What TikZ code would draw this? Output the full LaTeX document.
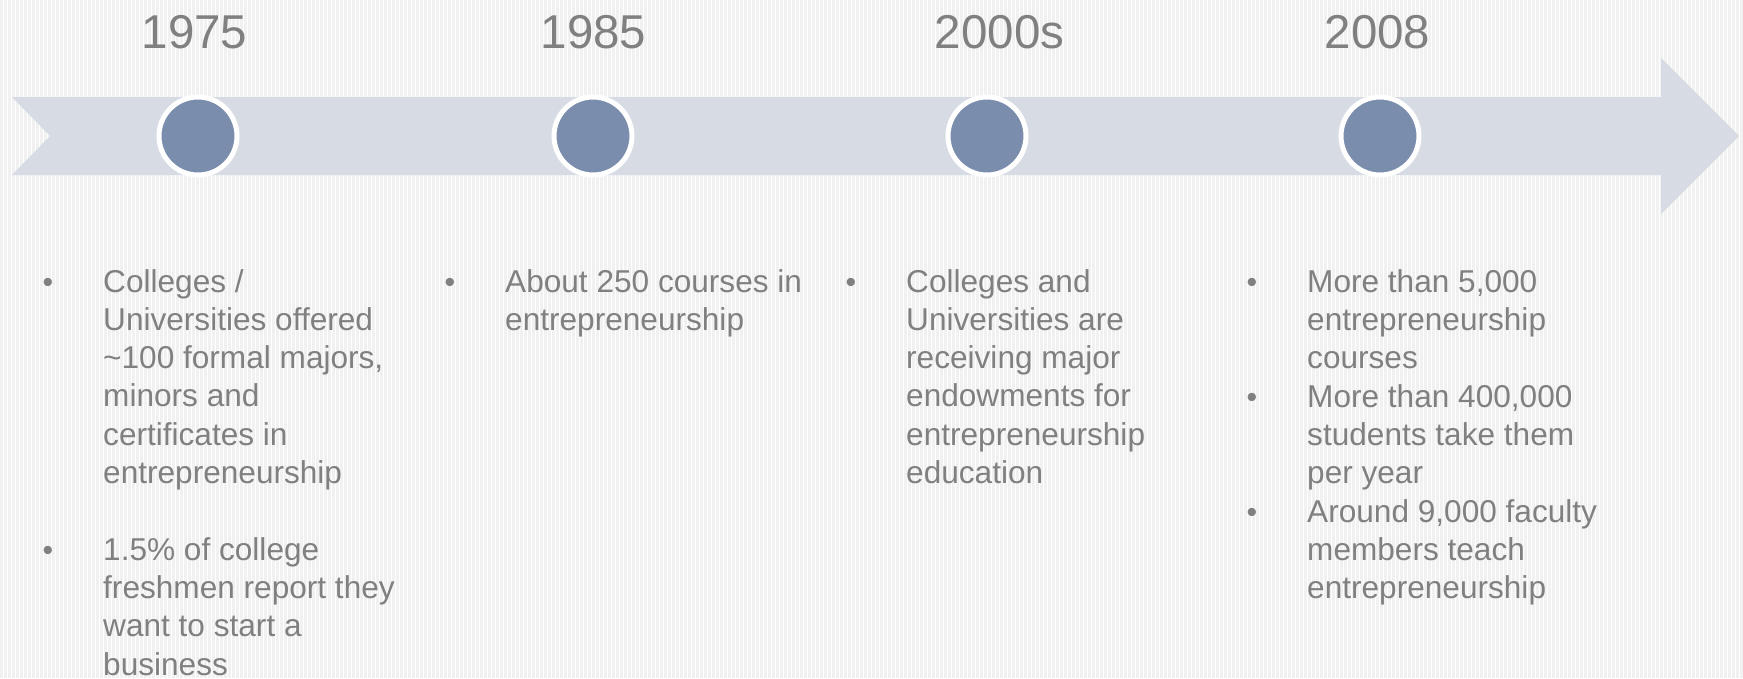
\documentclass[tikz,border=0pt]{standalone}
\usepackage{fontspec}
\setmainfont{Liberation Sans}
\definecolor{bandc}{RGB}{214,219,228}
\definecolor{dotc}{RGB}{123,141,173}
\definecolor{txtc}{RGB}{128,128,128}
\definecolor{stripec}{RGB}{241,241,241}
\tikzset{
  year/.style={font=\fontsize{47.5}{56}\selectfont, text=txtc, inner sep=0pt, anchor=base},
  body/.style={font=\fontsize{31.6}{38.3}\selectfont, text=txtc, inner sep=0pt, anchor=base west, align=left},
  bul/.style={font=\fontsize{30.3}{38.3}\selectfont, text=txtc, inner sep=0pt, anchor=base},
  dot/.style={circle, fill=dotc, draw=white, line width=5pt, minimum size=78pt, inner sep=0pt},
}
\begin{document}
\begin{tikzpicture}[x=1pt,y=-1pt]
\useasboundingbox (0,0) rectangle (1743,678);
\fill[white] (0,0) rectangle (1743,678);
\foreach \x in {0,4,...,1740} \fill[stripec] (\x,0) rectangle (\x+2.5,678);
% arrow band
\fill[bandc] (12,97) -- (1661,97) -- (1661,58) -- (1739,136) -- (1661,214) -- (1661,175) -- (12,175) -- (50,136) -- cycle;
% circles
\node[dot] (c1) at (198,136) {};
\node[dot] (c2) at (593,136) {};
\node[dot] (c3) at (987,136) {};
\node[dot] (c4) at (1380,136) {};
% years
\node[year] (y1) at (194.5,48) {1975};
\node[year] (y2) at (593.5,48) {1985};
\node[year] (y3) at (999.5,48) {2000s};
\node[year] (y4) at (1377.5,48) {2008};
% column 1 (body nodes anchored at baseline of their last line)
\node[bul] (b1a) at (48,292) {•};
\node[body] (t1a) at (103,483.5) {Colleges /\\Universities offered\\\textasciitilde100 formal majors,\\minors and\\certificates in\\entrepreneurship};
\node[bul] (b1b) at (48,560) {•};
\node[body] (t1b) at (103,675) {1.5\% of college\\freshmen report they\\want to start a\\business};
% column 2
\node[bul] (b2a) at (450,292) {•};
\node[body] (t2a) at (505,330.3) {About 250 courses in\\entrepreneurship};
% column 3
\node[bul] (b3a) at (851,292) {•};
\node[body] (t3a) at (906,483.5) {Colleges and\\Universities are\\receiving major\\endowments for\\entrepreneurship\\education};
% column 4
\node[bul] (b4a) at (1252,292) {•};
\node[body] (t4a) at (1307,368.6) {More than 5,000\\entrepreneurship\\courses};
\node[bul] (b4b) at (1252,407) {•};
\node[body] (t4b) at (1307,483.6) {More than 400,000\\students take them\\per year};
\node[bul] (b4c) at (1252,522) {•};
\node[body] (t4c) at (1307,598.6) {Around 9,000 faculty\\members teach\\entrepreneurship};
\end{tikzpicture}
\end{document}
